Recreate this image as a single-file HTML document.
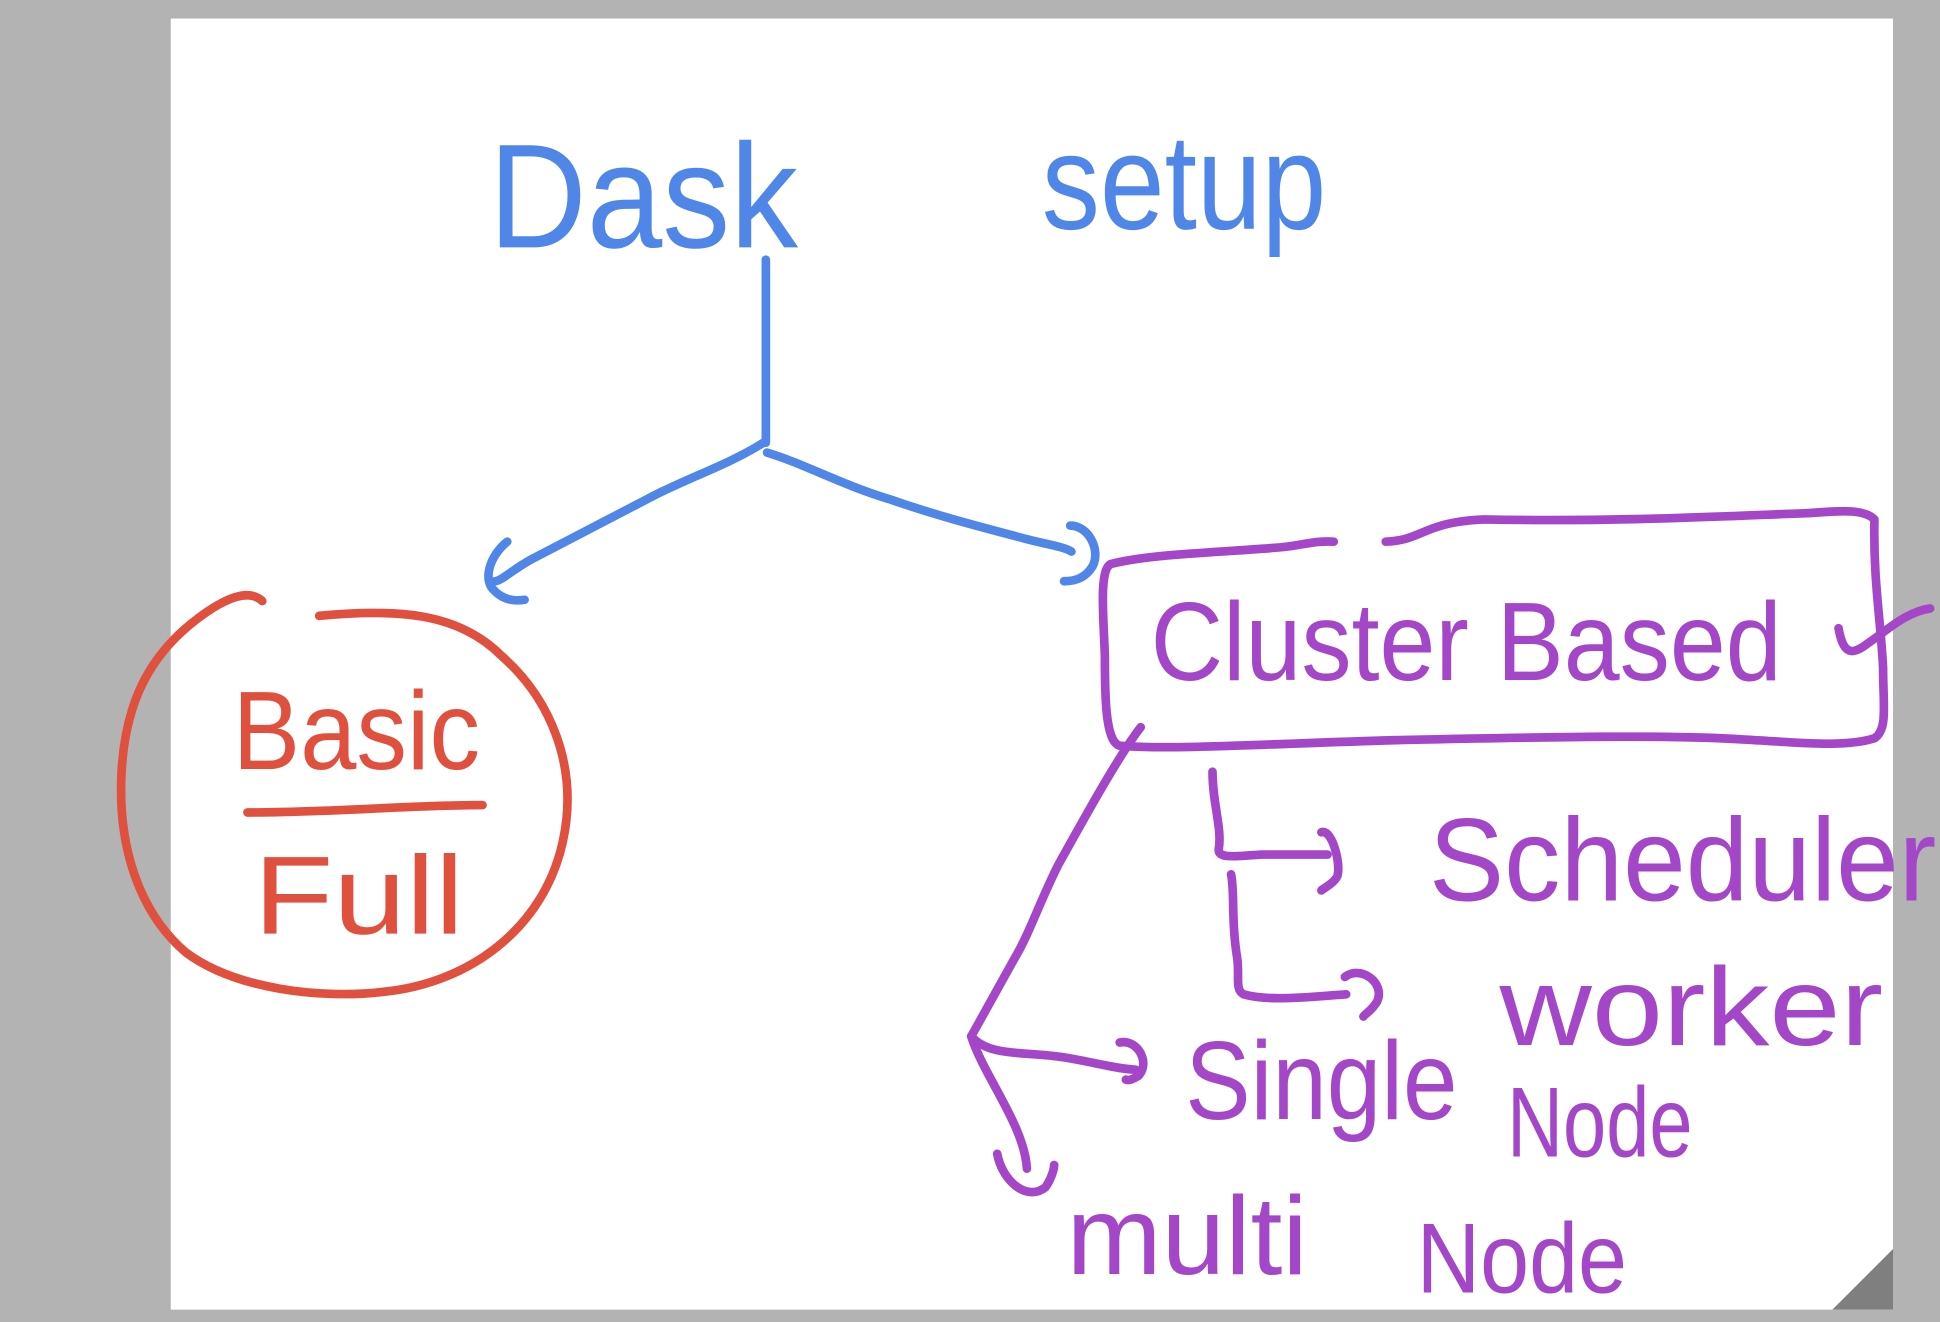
<!DOCTYPE html>
<html><head><meta charset="utf-8"><style>
html,body{margin:0;padding:0;background:#b3b3b3;}
svg{display:block;}
text{font-family:"Liberation Sans",sans-serif;}
</style></head><body>
<svg width="1940" height="1322" viewBox="0 0 1568 1069" preserveAspectRatio="none" xmlns="http://www.w3.org/2000/svg">
<rect x="0" y="0" width="1568" height="1069" fill="#b3b3b3"/>
<rect x="138" y="15" width="1392" height="1044" fill="#ffffff"/>
<polygon points="1530,1010 1530,1059 1481,1059" fill="#7f7f7f"/>

<g fill="none" stroke-linecap="round" stroke-linejoin="round" stroke-width="7">
<g stroke="#4f86e8">
<path d="M619,210 L619,358"/>
<path d="M617,358 C590,375 560,385 530,400 L430,452 C415,460 405,470 400,470"/>
<path d="M410,438 C395,450 390,470 400,478 C408,486 418,486 424,485"/>
<path d="M620,366 C650,375 680,392 720,404 C760,418 800,428 830,436 C845,440 860,442 866,446"/>
<path d="M865,425 C880,425 890,445 883,458 C877,468 868,470 860,470"/>
</g>
<g stroke="#e0503f">
<path d="M212,486 C200,475 180,485 160,500 C120,530 100,570 98,630 C96,690 115,740 150,770 C190,800 260,808 310,802 C380,795 440,750 455,680 C468,620 445,565 405,530 C370,495 320,492 258,498"/>
<path d="M200,657 C270,657 330,651 390,651"/>
</g>
<g stroke="#a347c8">
<path d="M1078,438 C1060,437 1050,442 1030,443 C980,447 930,448 898,456 C888,460 892,500 893,530 C893,560 893,600 905,603 C950,607 1050,600 1150,598 C1250,596 1350,594 1410,598 C1450,600 1490,605 1515,597 C1526,590 1522,570 1522,540 C1520,500 1514,470 1515,420 C1505,410 1480,414 1460,415 C1380,418 1300,422 1200,420 C1150,422 1150,437 1120,438"/>
<path d="M1486,508 C1490,530 1497,530 1510,520 C1525,510 1540,495 1560,492"/>
<path d="M922,588 C905,610 880,655 855,700 C840,730 832,755 820,775 L785,838"/>
<path d="M785,838 C800,855 830,850 860,855 C880,858 900,864 918,865"/>
<path d="M905,843 C920,840 930,860 920,870 C915,873 912,874 910,873"/>
<path d="M785,838 C795,870 828,910 830,945"/>
<path d="M806,933 C810,955 830,972 845,960 C850,953 852,945 852,942"/>
<path d="M980,624 C980,650 988,670 985,687 C985,695 1000,692 1020,691 L1073,691"/>
<path d="M1068,673 C1078,670 1085,705 1080,710 C1077,715 1070,718 1068,720"/>
<path d="M995,707 C998,720 995,745 1000,775 C1002,790 998,800 1005,804 C1025,810 1060,806 1088,804"/>
<path d="M1087,790 C1100,780 1120,795 1113,810 C1108,818 1103,820 1102,822"/>
</g>
</g>

<g fill="#4f86e8">
<text x="395" y="200" font-size="120" textLength="250" lengthAdjust="spacingAndGlyphs">Dask</text>
<text x="842" y="185" font-size="110" textLength="230" lengthAdjust="spacingAndGlyphs">setup</text>
</g>
<g fill="#e0503f">
<text x="188" y="622" font-size="90" textLength="200" lengthAdjust="spacingAndGlyphs">Basic</text>
<text x="205" y="755" font-size="90" textLength="170" lengthAdjust="spacingAndGlyphs">Full</text>
</g>
<g fill="#a347c8">
<text x="930" y="550" font-size="90" textLength="510" lengthAdjust="spacingAndGlyphs">Cluster Based</text>
<text x="1155" y="728" font-size="95" textLength="410" lengthAdjust="spacingAndGlyphs">Scheduler</text>
<text x="1212" y="845" font-size="90" textLength="310" lengthAdjust="spacingAndGlyphs">worker</text>
<text x="958" y="905" font-size="90" textLength="220" lengthAdjust="spacingAndGlyphs">Single</text>
<text x="1218" y="935" font-size="80" textLength="150" lengthAdjust="spacingAndGlyphs">Node</text>
<text x="862" y="1030" font-size="90" textLength="195" lengthAdjust="spacingAndGlyphs">multi</text>
<text x="1145" y="1045" font-size="80" textLength="170" lengthAdjust="spacingAndGlyphs">Node</text>
</g>
</svg>
</body></html>
